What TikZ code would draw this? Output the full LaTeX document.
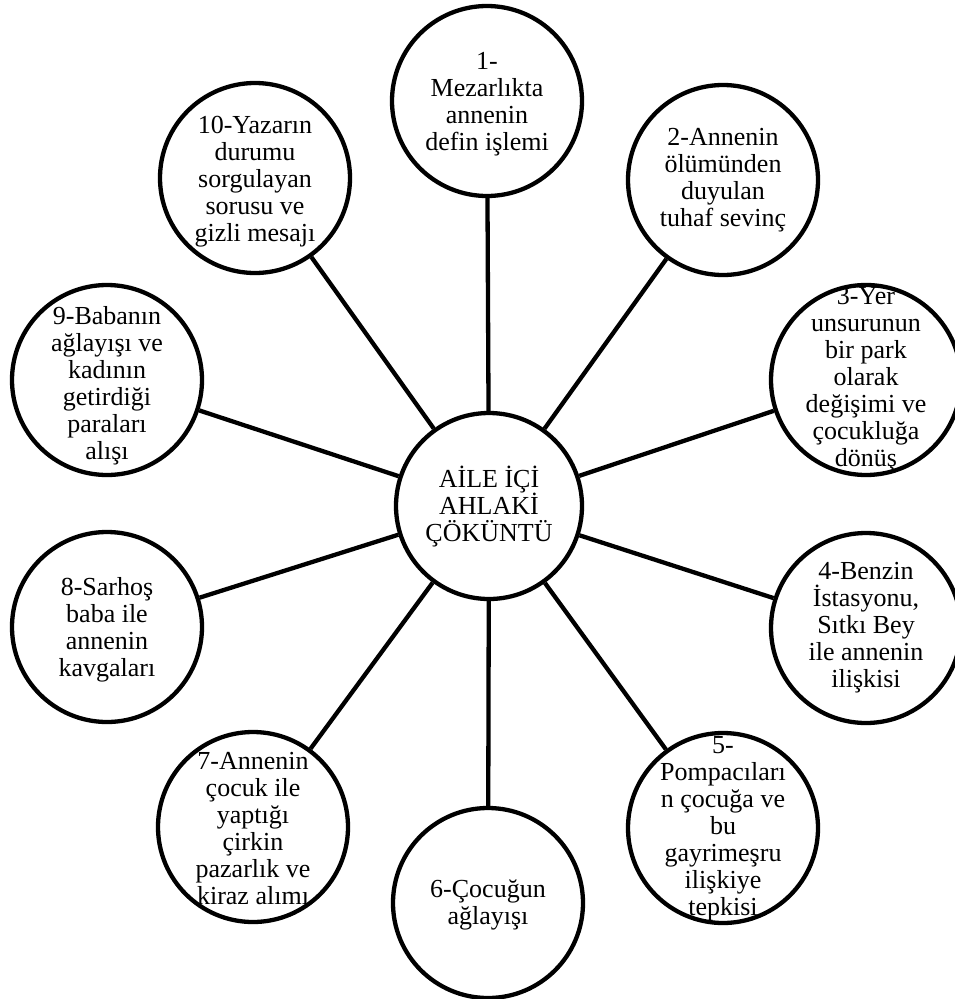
\documentclass[tikz,border=0pt]{standalone}
\usepackage{fontspec}
\setmainfont{Liberation Serif}
\begin{document}
\begin{tikzpicture}[x=1pt,y=-1pt,
  circ/.style={circle,draw=black,line width=4.3pt,minimum size=190pt,inner sep=0pt},
  ccirc/.style={circle,draw=black,line width=4.3pt,minimum size=186pt,inner sep=0pt},
  txt/.style={align=center,inner sep=0pt,font=\fontsize{26}{27}\selectfont},
  conn/.style={line width=4.3pt}]
\useasboundingbox (0,0) rectangle (955,999);
% texts
\node[txt] (tc) at (489,507) {AİLE İÇİ\\AHLAKİ\\ÇÖKÜNTÜ};
\node[txt] (t1) at (487,104) {1-\\Mezarlıkta\\annenin\\defin işlemi};
\node[txt] (t2) at (723,180) {2-Annenin\\ölümünden\\duyulan\\tuhaf sevinç};
\node[txt] (t3) at (866,380) {3-Yer\\unsurunun\\bir park\\olarak\\değişimi ve\\çocukluğa\\dönüş};
\node[txt] (t4) at (866,628) {4-Benzin\\İstasyonu,\\Sıtkı Bey\\ile annenin\\ilişkisi};
\node[txt] (t5) at (723,829) {5-\\Pompacıları\\n çocuğa ve\\bu\\gayrimeşru\\ilişkiye\\tepkisi};
\node[txt] (t6) at (488,905) {6-Çocuğun\\ağlayışı};
\node[txt] (t7) at (253,829) {7-Annenin\\çocuk ile\\yaptığı\\çirkin\\pazarlık ve\\kiraz alımı};
\node[txt] (t8) at (107,630) {8-Sarhoş\\baba ile\\annenin\\kavgaları};
\node[txt] (t9) at (107,386) {9-Babanın\\ağlayışı ve\\kadının\\getirdiği\\paraları\\alışı};
\node[txt] (t10) at (255,182) {10-Yazarın\\durumu\\sorgulayan\\sorusu ve\\gizli mesajı};
% circles
\node[ccirc] (c) at (489,506) {};
\node[circ] (n1) at (487,101) {};
\node[circ] (n2) at (723,180) {};
\node[circ] (n3) at (866,380) {};
\node[circ] (n4) at (866,628) {};
\node[circ] (n5) at (723,828) {};
\node[circ] (n6) at (488,903) {};
\node[circ] (n7) at (253,827) {};
\node[circ] (n8) at (107,627) {};
\node[circ] (n9) at (107,380) {};
\node[circ] (n10) at (255,178) {};
% connectors
\foreach \n in {n1,n2,n3,n4,n5,n6,n7,n8,n9,n10}
  \draw[conn] (c) -- (\n);
\end{tikzpicture}
\end{document}
